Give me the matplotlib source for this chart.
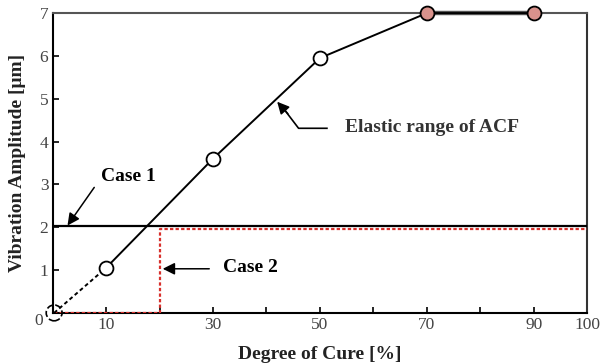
from matplotlib import pyplot as plt
import numpy as np

# dados
cura = [10, 30, 50, 70, 90]
amplitude = [1.05, 3.6, 5.95, 7.0, 7.0]
preenchido = [False, False, False, True, True]

origem_x = [0.3, 10]
origem_y = [0.0, 1.05]

caso1_x = [0, 100]
caso1_y = [2.02, 2.02]

caso2_x = [0.3, 20, 20, 100]
caso2_y = [0.0, 0.0, 1.96, 1.96]

xticks_maior = [10, 30, 50, 70, 90, 100]
xticks_menor = [20, 40, 60, 80]
yticks = [1, 2, 3, 4, 5, 6, 7]

plt.rcParams['font.family'] = ['Liberation Serif', 'DejaVu Serif']

fig = plt.figure(figsize=(6.01, 3.63), dpi=100)
ax = fig.add_axes([0.0874, 0.138, 0.89, 0.826])

vermelho = '#d8302c'
rosa = '#d9928c'
cinza = '#444444'
seta = dict(arrowstyle='-|>', color='black', lw=1.1, shrinkA=0, shrinkB=0,
            mutation_scale=18)

# linhas de referência
ax.plot(caso1_x, caso1_y, color='black', lw=1.6, zorder=3)
ax.plot(caso2_x, caso2_y, color=vermelho, lw=1.6, ls=(0, (1.5, 1)), zorder=3)

# curva principal
ax.plot(origem_x, origem_y, color='black', lw=1.4, ls=(0, (2, 1.5)), zorder=4)
ax.plot(cura[:3], amplitude[:3], color='black', lw=1.4, zorder=4)
ax.plot(cura[2:], amplitude[2:], color='black', lw=1.4, zorder=4, clip_on=False)
ax.plot(cura[3:], amplitude[3:], color='#555555', lw=3.2, zorder=3, clip_on=False)

for x, y, f in zip(cura, amplitude, preenchido):
    ax.plot(x, y, 'o', ms=10, mec='black', mew=1.3,
            mfc=rosa if f else 'white', zorder=6, clip_on=False)

# círculo tracejado na origem
ax.scatter([origem_x[0]], [origem_y[0]], s=130, facecolors='none',
           edgecolors='black', linewidths=1.2, linestyles='--', zorder=6, clip_on=False)

# anotações
ax.annotate('', xy=(2.8, 2.04), xytext=(7.8, 2.93), arrowprops=seta)
ax.text(14.2, 3.18, 'Case 1', fontsize=14, fontweight='bold',
        ha='center', va='center')

ax.annotate('', xy=(20.6, 1.03), xytext=(29.3, 1.03), arrowprops=seta)
ax.text(37.0, 1.05, 'Case 2', fontsize=14, fontweight='bold',
        ha='center', va='center')

ax.plot([51.3, 46.0, 43.5], [4.31, 4.31, 4.72], color='black', lw=1.2, zorder=5)
ax.annotate('', xy=(42.0, 4.93), xytext=(44.0, 4.65), arrowprops=seta)
ax.text(54.7, 4.32, 'Elastic range of ACF', fontsize=14, fontweight='bold',
        color='#333333', ha='left', va='center')

# eixos
ax.set_xlim(0, 100)
ax.set_ylim(0, 7)
ax.set_xticks(xticks_maior)
ax.set_xticks(xticks_menor, minor=True)
ax.set_yticks(yticks)
ax.tick_params(which='both', direction='in', length=4, width=1.2,
               labelsize=12.5, labelcolor=cinza, pad=3)
ax.text(-2.6, -0.2, '0', fontsize=12.5, color=cinza, ha='center', va='center')

for s in ax.spines.values():
    s.set_linewidth(1.5)
ax.spines['top'].set_color('#555555')
ax.spines['right'].set_color('#333333')

ax.set_xlabel('Degree of Cure [%]', fontsize=14, fontweight='bold',
              color='#222222', labelpad=9)
ax.set_ylabel('Vibration Amplitude [μm]', fontsize=14, fontweight='bold',
              color='#222222', labelpad=10)

fig.savefig('out.png', dpi=100)
